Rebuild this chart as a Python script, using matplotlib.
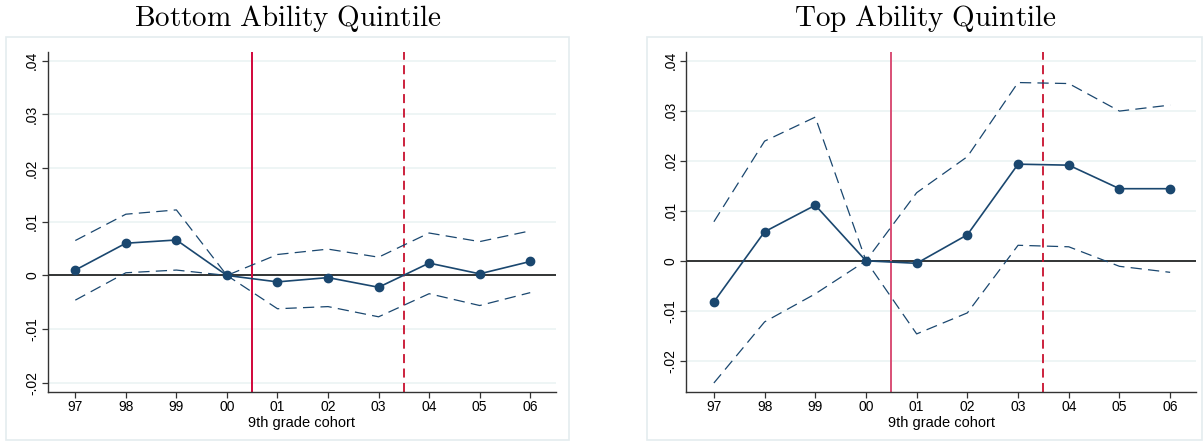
import numpy as np
import matplotlib.pyplot as plt
from matplotlib.patches import Rectangle

plt.rcParams['font.family'] = ['Liberation Sans', 'DejaVu Sans']
plt.rcParams['mathtext.fontset'] = 'cm'

# cohorts on the x axis
cohorts = ["97", "98", "99", "00", "01", "02", "03", "04", "05", "06"]

# bottom ability quintile: estimate and 95% CI
bot_est = [0.0010, 0.0060, 0.0066, 0.0, -0.0012, -0.0004, -0.0022, 0.0023, 0.0003, 0.0026]
bot_hi = [0.0065, 0.0114, 0.0122, 0.0, 0.0039, 0.0049, 0.0034, 0.0079, 0.0063, 0.0083]
bot_lo = [-0.0046, 0.0005, 0.0010, 0.0, -0.0062, -0.0058, -0.0077, -0.0034, -0.0056, -0.0032]

# top ability quintile
top_est = [-0.0082, 0.0058, 0.0111, 0.0, -0.0005, 0.0052, 0.0193, 0.0191, 0.0144, 0.0144]
top_hi = [0.0078, 0.0239, 0.0287, 0.0, 0.0136, 0.0208, 0.0356, 0.0354, 0.0299, 0.0311]
top_lo = [-0.0244, -0.0122, -0.0066, 0.0, -0.0146, -0.0104, 0.0031, 0.0028, -0.0011, -0.0023]

yticks = [-0.02, -0.01, 0.0, 0.01, 0.02, 0.03, 0.04]
ytick_labels = ["-.02", "-.01", "0", ".01", ".02", ".03", ".04"]

navy = "#1a476f"
grid_c = "#eaf2f3"
box_c = "#e4ecef"

fig = plt.figure(figsize=(12.03, 4.45), dpi=100)

# outer panel boxes
for x0, w in [(6 / 1203, 563 / 1203), (647 / 1203, 555 / 1203)]:
    fig.patches.append(Rectangle((x0, 5 / 445), w, 403 / 445, transform=fig.transFigure,
                                 facecolor="none", edgecolor=box_c, lw=1.2, zorder=-1))

ax1 = fig.add_axes([47.5 / 1203, 1 - 392 / 445, 508.5 / 1203, 340 / 445])
ax2 = fig.add_axes([686 / 1203, 1 - 392 / 445, 510 / 1203, 340 / 445])

panels = [
    (ax1, bot_est, bot_hi, bot_lo, "Bottom Ability Quintile", (-0.0217, 0.0416), "#d1063a", 287.5),
    (ax2, top_est, top_hi, top_lo, "Top Ability Quintile", (-0.0262, 0.0417), "#d94f76", 925),
]

x = np.arange(len(cohorts))
for ax, est, hi, lo, title, ylim, red, cx in panels:
    ax.set_facecolor("none")
    for yt in yticks:
        ax.axhline(yt, color=grid_c, lw=1.1, zorder=0)
    ax.axhline(0, color="black", lw=1.1, zorder=1)
    ax.axvline(3.5, color=red, lw=1.4, zorder=2)
    ax.axvline(6.5, color="#c8102e", lw=1.3, ls=(0, (5, 3)), zorder=2)
    ax.plot(x, hi, color=navy, lw=0.9, ls=(0, (9, 5)), zorder=3)
    ax.plot(x, lo, color=navy, lw=0.9, ls=(0, (9, 5)), zorder=3)
    ax.plot(x, est, color=navy, lw=1.2, marker="o", ms=6, zorder=4)

    ax.set_xlim(-0.55, 9.51)
    ax.set_ylim(*ylim)
    ax.set_xticks(x)
    ax.set_xticklabels(cohorts, fontsize=10)
    ax.set_yticks(yticks)
    ax.set_yticklabels(ytick_labels, fontsize=10, rotation=90, va="center")
    ax.set_xlabel("9th grade cohort", fontsize=10.5, labelpad=1)
    for s in ["top", "right"]:
        ax.spines[s].set_visible(False)
    for s in ["left", "bottom"]:
        ax.spines[s].set_color("#333333")
        ax.spines[s].set_linewidth(1.0)
    ax.tick_params(direction="out", length=4, width=0.9, color="#333333", pad=2)
    fig.text(cx / 1203, 1 - 18 / 445, r"$\mathrm{" + title.replace(" ", r"\ ") + "}$",
             ha="center", va="center", fontsize=21)

fig.savefig("out.png", dpi=100)
